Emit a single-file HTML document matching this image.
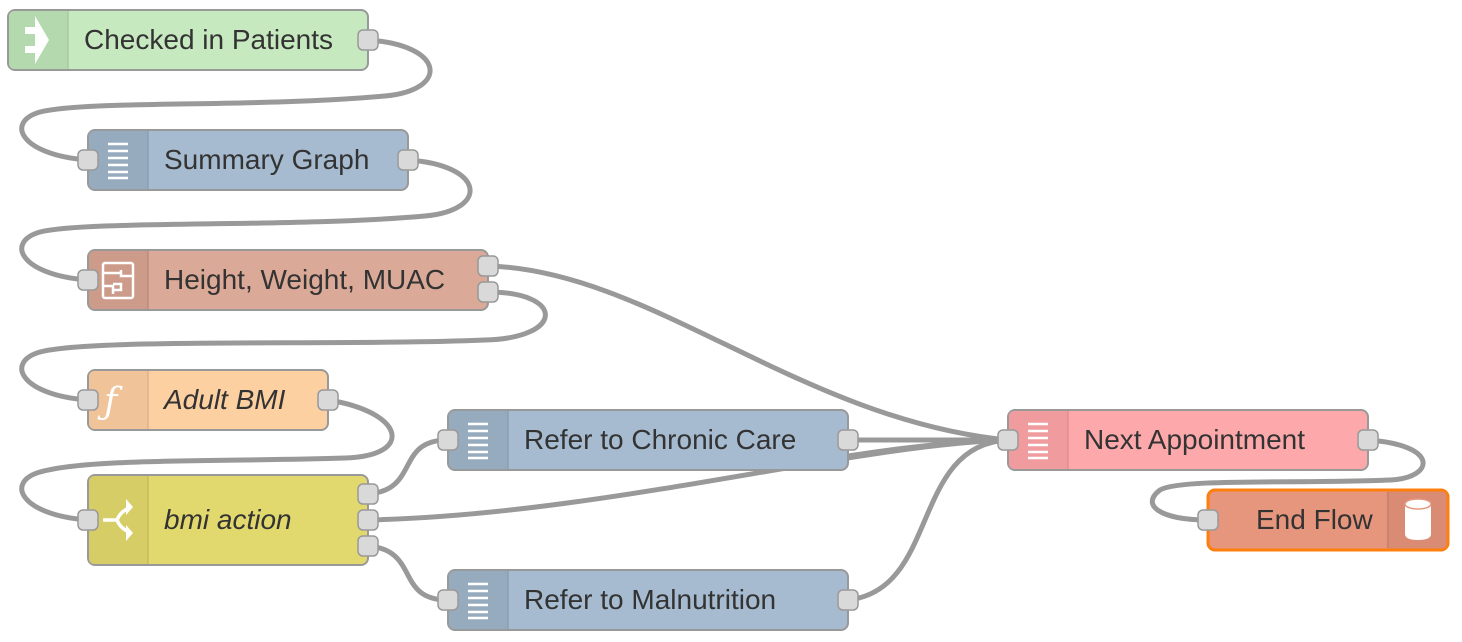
<!DOCTYPE html>
<html><head><meta charset="utf-8"><style>
html,body{margin:0;padding:0;background:#fff;width:1462px;height:642px;overflow:hidden}
text{font-family:"Liberation Sans",sans-serif;font-size:28px;fill:#333}
</style></head><body>
<svg width="1462" height="642" viewBox="0 0 1462 642" xmlns="http://www.w3.org/2000/svg">
<g fill="none" stroke="#999" stroke-width="5" stroke-linecap="round">
<path d="M368,40 C445,45 450,90 385,96 C250,108 90,100 40,112 C5,122 20,155 88,160"/>
<path d="M408,160 C485,165 490,210 425,216 C290,228 90,220 40,232 C5,242 20,275 88,280"/>
<path d="M488,266 C650,270 800,420 1008,440"/>
<path d="M488,292 C565,292 565,338 485,340 C340,346 90,338 40,352 C5,362 20,395 88,400"/>
<path d="M328,400 C405,412 415,456 345,458 C220,462 90,458 40,472 C5,482 20,515 88,520"/>
<path d="M368,494 C420,490 395,440 448,440"/>
<path d="M368,520 C600,515 850,445 1008,440"/>
<path d="M368,546 C420,550 395,600 448,600"/>
<path d="M848,440 C900,440 950,440 1008,440"/>
<path d="M848,456 C900,448 950,442 1008,440"/>
<path d="M848,600 C940,590 910,445 1008,440"/>
<path d="M1368,440 C1440,445 1435,478 1390,480 C1300,484 1180,478 1160,490 C1140,505 1160,520 1208,520"/>
</g>
<rect x="8" y="10" width="360" height="60" rx="7" fill="#c7e9c0" stroke="#999" stroke-width="2"/>
<path d="M9,17 q0,-6 6,-6 h53 v58 h-53 q-6,0 -6,-6z" fill="#b5d9ae"/>
<line x1="68" y1="11" x2="68" y2="69" stroke="#a8c8a0" stroke-width="1.5"/>
<path d="M25,27 h10 v-11 l14,24 l-14,24 v-11 h-10 v-7 h10 v-12 h-10z" fill="#fff"/>
<text x="84" y="49">Checked in Patients</text>
<rect x="88" y="130" width="320" height="60" rx="7" fill="#a6bbcf" stroke="#999" stroke-width="2"/>
<path d="M89,137 q0,-6 6,-6 h53 v58 h-53 q-6,0 -6,-6z" fill="#97abbf"/>
<line x1="148" y1="131" x2="148" y2="189" stroke="#8a9eb2" stroke-width="1.5"/>
<g stroke="#fff" stroke-width="2.5"><line x1="108" y1="144" x2="128" y2="144"/><line x1="108" y1="151" x2="128" y2="151"/><line x1="108" y1="158" x2="128" y2="158"/><line x1="108" y1="165" x2="128" y2="165"/><line x1="108" y1="172" x2="128" y2="172"/><line x1="108" y1="178" x2="128" y2="178"/></g>
<text x="164" y="169">Summary Graph</text>
<rect x="88" y="250" width="400" height="60" rx="7" fill="#dba997" stroke="#999" stroke-width="2"/>
<path d="M89,257 q0,-6 6,-6 h53 v58 h-53 q-6,0 -6,-6z" fill="#cc9b89"/>
<line x1="148" y1="251" x2="148" y2="309" stroke="#bd8d7b" stroke-width="1.5"/>
<g fill="none" stroke="#fff" stroke-width="2.5"><rect x="103" y="263" width="30" height="35" rx="2"/><path d="M103,273 h18 M121,270 v6 h12 M103,286 h10 v8 M113,290 h8 v-6 h-8"/></g>
<text x="164" y="289">Height, Weight, MUAC</text>
<rect x="88" y="370" width="240" height="60" rx="7" fill="#fdd0a2" stroke="#999" stroke-width="2"/>
<path d="M89,377 q0,-6 6,-6 h53 v58 h-53 q-6,0 -6,-6z" fill="#f0c399"/>
<line x1="148" y1="371" x2="148" y2="429" stroke="#dfb48a" stroke-width="1.5"/>
<text x="104" y="413" style="font-size:36px;fill:#fff;font-style:italic;font-family:'DejaVu Serif',serif">ƒ</text>
<text x="164" y="409" font-style="italic">Adult BMI</text>
<rect x="88" y="475" width="280" height="90" rx="7" fill="#e2d96e" stroke="#999" stroke-width="2"/>
<path d="M89,482 q0,-6 6,-6 h53 v88 h-53 q-6,0 -6,-6z" fill="#d6cd66"/>
<line x1="148" y1="476" x2="148" y2="564" stroke="#c5bc5a" stroke-width="1.5"/>
<g fill="none" stroke="#fff" stroke-width="3.5"><path d="M103,520 h14 M117,520 q3,-8 12,-12 M117,520 q3,8 12,12"/></g>
<path d="M126,499 l7,8 l-7,8z M126,525 l7,8 l-7,8z" fill="#fff"/>
<text x="164" y="529" font-style="italic">bmi action</text>
<rect x="448" y="410" width="400" height="60" rx="7" fill="#a6bbcf" stroke="#999" stroke-width="2"/>
<path d="M449,417 q0,-6 6,-6 h53 v58 h-53 q-6,0 -6,-6z" fill="#97abbf"/>
<line x1="508" y1="411" x2="508" y2="469" stroke="#8a9eb2" stroke-width="1.5"/>
<g stroke="#fff" stroke-width="2.5"><line x1="468" y1="424" x2="488" y2="424"/><line x1="468" y1="431" x2="488" y2="431"/><line x1="468" y1="438" x2="488" y2="438"/><line x1="468" y1="445" x2="488" y2="445"/><line x1="468" y1="452" x2="488" y2="452"/><line x1="468" y1="458" x2="488" y2="458"/></g>
<text x="524" y="449">Refer to Chronic Care</text>
<rect x="448" y="570" width="400" height="60" rx="7" fill="#a6bbcf" stroke="#999" stroke-width="2"/>
<path d="M449,577 q0,-6 6,-6 h53 v58 h-53 q-6,0 -6,-6z" fill="#97abbf"/>
<line x1="508" y1="571" x2="508" y2="629" stroke="#8a9eb2" stroke-width="1.5"/>
<g stroke="#fff" stroke-width="2.5"><line x1="468" y1="584" x2="488" y2="584"/><line x1="468" y1="591" x2="488" y2="591"/><line x1="468" y1="598" x2="488" y2="598"/><line x1="468" y1="605" x2="488" y2="605"/><line x1="468" y1="612" x2="488" y2="612"/><line x1="468" y1="618" x2="488" y2="618"/></g>
<text x="524" y="609">Refer to Malnutrition</text>
<rect x="1008" y="410" width="360" height="60" rx="7" fill="#fda9ab" stroke="#999" stroke-width="2"/>
<path d="M1009,417 q0,-6 6,-6 h53 v58 h-53 q-6,0 -6,-6z" fill="#f09c9e"/>
<line x1="1068" y1="411" x2="1068" y2="469" stroke="#dd8f91" stroke-width="1.5"/>
<g stroke="#fff" stroke-width="2.5"><line x1="1028" y1="424" x2="1048" y2="424"/><line x1="1028" y1="431" x2="1048" y2="431"/><line x1="1028" y1="438" x2="1048" y2="438"/><line x1="1028" y1="445" x2="1048" y2="445"/><line x1="1028" y1="452" x2="1048" y2="452"/><line x1="1028" y1="458" x2="1048" y2="458"/></g>
<text x="1084" y="449">Next Appointment</text>
<rect x="1208" y="490" width="240" height="60" rx="7" fill="#e6967c" stroke="#ff7f0e" stroke-width="3"/>
<path d="M1389,491.5 h52 q5.5,0 5.5,5.5 v46 q0,5.5 -5.5,5.5 h-52z" fill="#d98b74"/>
<line x1="1388" y1="492" x2="1388" y2="548" stroke="#c47d68" stroke-width="1.5"/>
<path d="M1405,504 v30 q0,6 13,6 q13,0 13,-6 v-30z" fill="#fff"/>
<ellipse cx="1418" cy="504" rx="13" ry="5" fill="#fff" stroke="#e6967c" stroke-width="1.5"/>
<text x="1256" y="529">End Flow</text>
<g fill="#d9d9d9" stroke="#999" stroke-width="1.5">
<rect x="358" y="30" width="20" height="20" rx="5"/>
<rect x="78" y="150" width="20" height="20" rx="5"/>
<rect x="398" y="150" width="20" height="20" rx="5"/>
<rect x="78" y="270" width="20" height="20" rx="5"/>
<rect x="478" y="256" width="20" height="20" rx="5"/>
<rect x="478" y="282" width="20" height="20" rx="5"/>
<rect x="78" y="390" width="20" height="20" rx="5"/>
<rect x="318" y="390" width="20" height="20" rx="5"/>
<rect x="78" y="510" width="20" height="20" rx="5"/>
<rect x="358" y="484" width="20" height="20" rx="5"/>
<rect x="358" y="510" width="20" height="20" rx="5"/>
<rect x="358" y="536" width="20" height="20" rx="5"/>
<rect x="438" y="430" width="20" height="20" rx="5"/>
<rect x="838" y="430" width="20" height="20" rx="5"/>
<rect x="438" y="590" width="20" height="20" rx="5"/>
<rect x="838" y="590" width="20" height="20" rx="5"/>
<rect x="998" y="430" width="20" height="20" rx="5"/>
<rect x="1358" y="430" width="20" height="20" rx="5"/>
<rect x="1198" y="510" width="20" height="20" rx="5"/>
</g>
</svg>
</body></html>
